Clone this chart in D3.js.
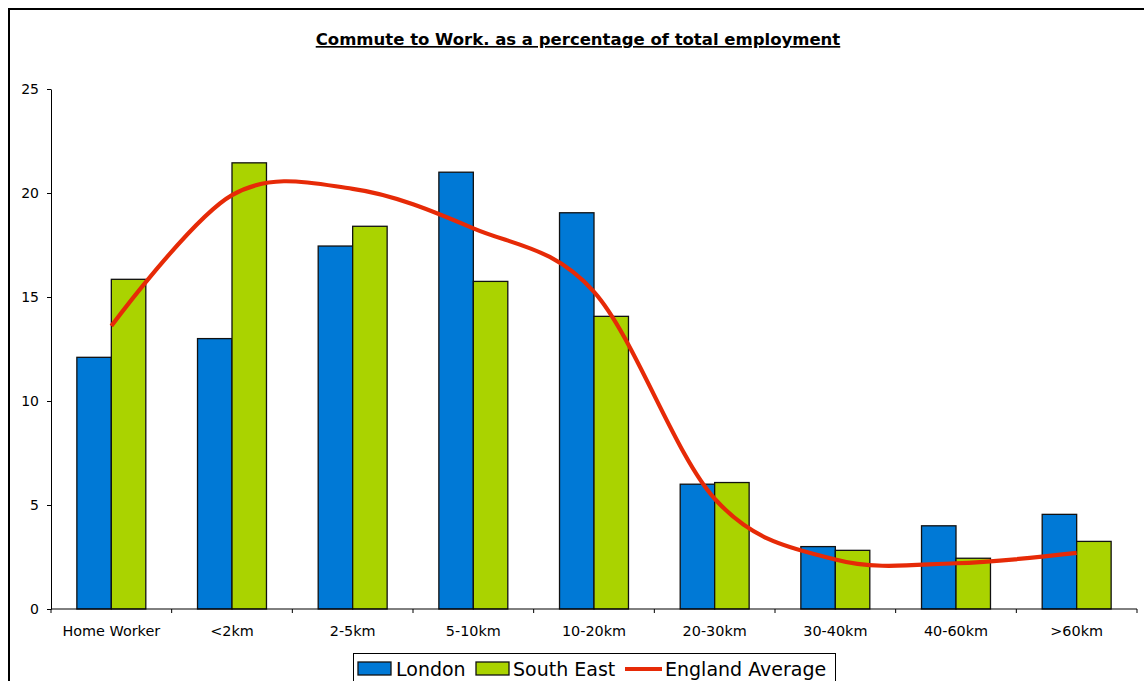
<!DOCTYPE html>
<html>
<head>
<meta charset="utf-8">
<script src="https://cdn.jsdelivr.net/npm/d3@7"></script>
<style>
  html, body { margin: 0; padding: 0; background: #fff; }
  svg { display: block; font-family: "DejaVu Sans", Verdana, sans-serif; }
</style>
</head>
<body>
<svg id="chart" width="1144" height="681"></svg>
<script>
// Commute distance bands
const categories = ["Home Worker", "<2km", "2-5km", "5-10km", "10-20km", "20-30km", "30-40km", "40-60km", ">60km"];
// Share of total employment (%)
const london = [12.1, 13.0, 17.45, 21.0, 19.05, 6.0, 3.0, 4.0, 4.55];
const southEast = [15.85, 21.45, 18.4, 15.75, 14.07, 6.08, 2.82, 2.44, 3.25];
const englandAverage = [13.6, 19.9, 20.2, 18.3, 15.25, 5.3, 2.38, 2.2, 2.7];
const yTicks = [0, 5, 10, 15, 20, 25];

const seriesNames = ["London", "South East"];
const seriesColors = { "London": "#0079d6", "South East": "#aad300" };
const lineColor = "#e62a07";

const svg = d3.select("#chart");

// Outer chart frame (continues past the right and bottom edges)
svg.append("rect")
  .attr("x", 9).attr("y", 9)
  .attr("width", 1200).attr("height", 700)
  .attr("fill", "#fff").attr("stroke", "#000").attr("stroke-width", 2);

// Title
svg.append("text")
  .attr("x", 578).attr("y", 45)
  .attr("text-anchor", "middle")
  .attr("font-size", "16.5px")
  .attr("font-weight", "bold")
  .attr("text-decoration", "underline")
  .attr("fill", "#000")
  .text("Commute to Work. as a percentage of total employment");

const plot = { left: 51, right: 1137, top: 89, bottom: 609 };

const x0 = d3.scaleBand().domain(categories).range([plot.left, plot.right]).paddingInner(0).paddingOuter(0);
const x1 = d3.scaleBand().domain(seriesNames).range([0, x0.bandwidth()]).paddingInner(0).paddingOuter(0.75);
const y = d3.scaleLinear().domain([0, 25]).range([plot.bottom, plot.top]);

// Bars
const rows = categories.map((c, i) => ({ cat: c, values: [
  { name: "London", value: london[i] },
  { name: "South East", value: southEast[i] }
]}));

const groups = svg.append("g").selectAll("g")
  .data(rows).join("g")
  .attr("transform", d => `translate(${x0(d.cat)},0)`);

groups.selectAll("rect")
  .data(d => d.values).join("rect")
  .attr("x", d => x1(d.name))
  .attr("y", d => y(d.value))
  .attr("width", x1.bandwidth())
  .attr("height", d => y(0) - y(d.value))
  .attr("fill", d => seriesColors[d.name])
  .attr("stroke", "#111")
  .attr("stroke-width", 1.3);

// Y axis
const yAxis = svg.append("g")
  .attr("transform", `translate(${plot.left},0)`)
  .call(d3.axisLeft(y).tickValues(yTicks).tickSize(4).tickSizeOuter(0).tickPadding(8));
yAxis.select(".domain").attr("stroke", "#000");
yAxis.selectAll(".tick line").attr("stroke", "#000");
yAxis.selectAll(".tick text")
  .attr("font-size", "14px")
  .attr("font-family", "DejaVu Sans, Verdana, sans-serif")
  .attr("fill", "#000");

// X axis with ticks between categories
const xAxisG = svg.append("g").attr("transform", `translate(0,${plot.bottom})`);
xAxisG.append("line")
  .attr("x1", plot.left).attr("x2", plot.right)
  .attr("stroke", "#000");
const boundaries = categories.map(c => x0(c)).concat([plot.right]);
xAxisG.selectAll(".bt")
  .data(boundaries).join("line")
  .attr("class", "bt")
  .attr("x1", d => d).attr("x2", d => d)
  .attr("y1", 0).attr("y2", 4)
  .attr("stroke", "#000");
xAxisG.selectAll(".lbl")
  .data(categories).join("text")
  .attr("class", "lbl")
  .attr("x", d => x0(d) + x0.bandwidth() / 2)
  .attr("y", 27)
  .attr("text-anchor", "middle")
  .attr("font-size", "14.4px")
  .attr("fill", "#000")
  .text(d => d);

// England average smoothed line
const line = d3.line()
  .x((d, i) => x0(categories[i]) + x0.bandwidth() / 2)
  .y(d => y(d))
  .curve(d3.curveCatmullRom.alpha(0));
svg.append("path")
  .datum(englandAverage)
  .attr("d", line)
  .attr("fill", "none")
  .attr("stroke", lineColor)
  .attr("stroke-width", 4.2)
  .attr("stroke-linejoin", "round");

// Legend
const legend = svg.append("g");
legend.append("rect")
  .attr("x", 353.5).attr("y", 653.5)
  .attr("width", 482).attr("height", 40)
  .attr("fill", "#fff").attr("stroke", "#000").attr("stroke-width", 1);

const legendItems = [
  { name: "London", type: "bar", sx: 358, tx: 396 },
  { name: "South East", type: "bar", sx: 476, tx: 513 },
  { name: "England Average", type: "line", sx: 625, tx: 665 }
];
legendItems.forEach(it => {
  if (it.type === "bar") {
    legend.append("rect")
      .attr("x", it.sx).attr("y", 662)
      .attr("width", 33).attr("height", 13)
      .attr("fill", seriesColors[it.name])
      .attr("stroke", "#111").attr("stroke-width", 1.3);
  } else {
    legend.append("line")
      .attr("x1", it.sx).attr("x2", it.sx + 37)
      .attr("y1", 669).attr("y2", 669)
      .attr("stroke", lineColor).attr("stroke-width", 4);
  }
  legend.append("text")
    .attr("x", it.tx).attr("y", 676)
    .attr("font-size", "19px")
    .attr("fill", "#000")
    .text(it.name);
});
</script>
</body>
</html>
